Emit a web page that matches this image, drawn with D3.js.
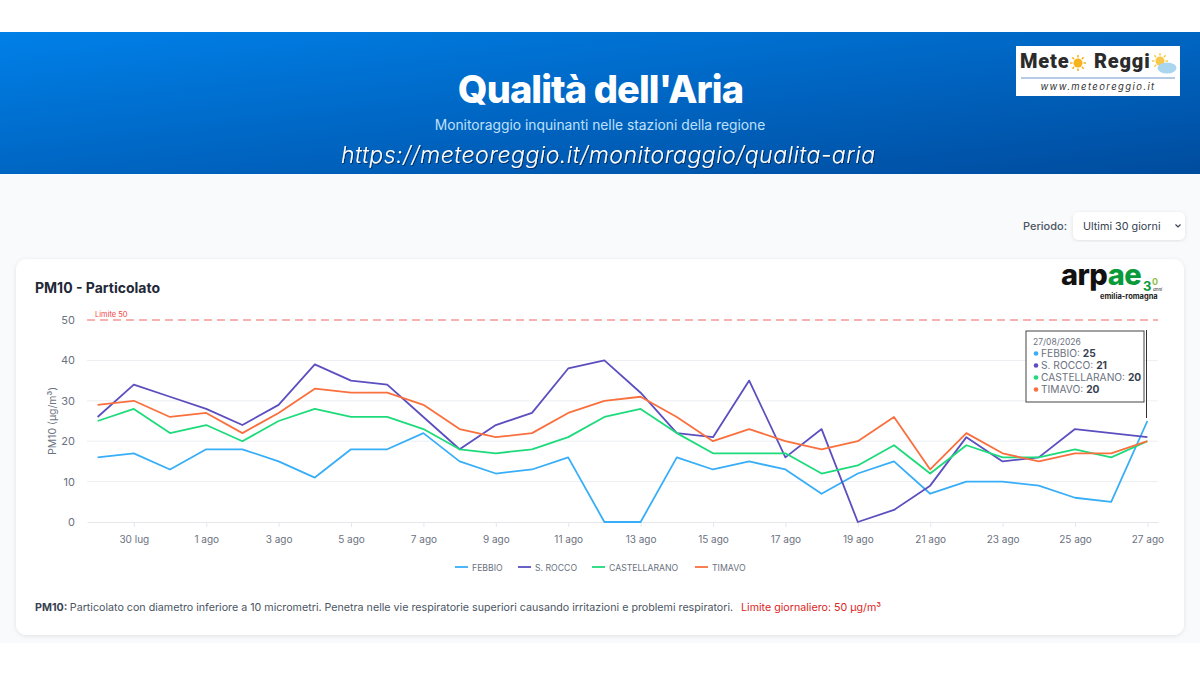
<!DOCTYPE html>
<html lang="it">
<head>
<meta charset="utf-8">
<title>Qualità dell'Aria</title>
<script src="https://cdn.jsdelivr.net/npm/d3@7"></script>
<style>
html, body { margin: 0; padding: 0; background: #fff; overflow: hidden; }
svg { display: block; font-family: Inter, 'Open Sans', sans-serif; }
.axis path, .axis line { stroke: #e5e7eb; }
.axis text { fill: #6b7280; font-size: 10px; font-family: Inter, sans-serif; }
</style>
</head>
<body>
<svg id="chart" width="1200" height="675"></svg>
<script>
const dates = ['29 lug', '30 lug', '31 lug', '1 ago', '2 ago', '3 ago', '4 ago', '5 ago', '6 ago', '7 ago', '8 ago', '9 ago', '10 ago', '11 ago', '12 ago', '13 ago', '14 ago', '15 ago', '16 ago', '17 ago', '18 ago', '19 ago', '20 ago', '21 ago', '22 ago', '23 ago', '24 ago', '25 ago', '26 ago', '27 ago'];
const tickDates = ['30 lug', '1 ago', '3 ago', '5 ago', '7 ago', '9 ago', '11 ago', '13 ago', '15 ago', '17 ago', '19 ago', '21 ago', '23 ago', '25 ago', '27 ago'];
const yTicks = [0, 10, 20, 30, 40, 50];
const stations = ['FEBBIO', 'S. ROCCO', 'CASTELLARANO', 'TIMAVO'];
const colors = ['#38aef8', '#5b4fc0', '#1ddb7b', '#f9703e'];
const febbio = [16, 17, 13, 18, 18, 15, 11, 18, 18, 22, 15, 12, 13, 16, 0, 0, 16, 13, 15, 13, 7, 12, 15, 7, 10, 10, 9, 6, 5, 25];
const sRocco = [26, 34, 31, 28, 24, 29, 39, 35, 34, 26, 18, 24, 27, 38, 40, 32, 22, 21, 35, 16, 23, 0, 3, 9, 21, 15, 16, 23, 22, 21];
const castellarano = [25, 28, 22, 24, 20, 25, 28, 26, 26, 23, 18, 17, 18, 21, 26, 28, 22, 17, 17, 17, 12, 14, 19, 12, 19, 16, 16, 18, 16, 20];
const timavo = [29, 30, 26, 27, 22, 27, 33, 32, 32, 29, 23, 21, 22, 27, 30, 31, 26, 20, 23, 20, 18, 20, 26, 13, 22, 17, 15, 17, 17, 20];
const series = [febbio, sRocco, castellarano, timavo];
const limit = 50;
const tooltipDate = '27/08/2026';

const svg = d3.select('#chart');
const defs = svg.append('defs');

const grad = defs.append('linearGradient').attr('id', 'head').attr('x1', '0').attr('y1', '0').attr('x2', '1').attr('y2', '1');
grad.append('stop').attr('offset', '0%').attr('stop-color', '#0080e8');
grad.append('stop').attr('offset', '100%').attr('stop-color', '#004c9e');

const soft = defs.append('filter').attr('id', 'soft').attr('x', '-5%').attr('y', '-5%').attr('width', '110%').attr('height', '110%');
soft.append('feDropShadow').attr('dx', 0).attr('dy', 1).attr('stdDeviation', 2).attr('flood-color', '#000').attr('flood-opacity', 0.1);
const textShadow = defs.append('filter').attr('id', 'tshadow').attr('x', '-5%').attr('y', '-20%').attr('width', '110%').attr('height', '150%');
textShadow.append('feDropShadow').attr('dx', 1).attr('dy', 1).attr('stdDeviation', 0.7).attr('flood-color', '#00214d').attr('flood-opacity', 0.8);

// page background and header
svg.append('rect').attr('y', 174).attr('width', 1200).attr('height', 469).attr('fill', '#f8fafc');
svg.append('rect').attr('y', 32).attr('width', 1200).attr('height', 142).attr('fill', 'url(#head)');

svg.append('text').attr('x', 600.5).attr('y', 103).attr('text-anchor', 'middle').attr('fill', '#fff')
    .attr('font-size', 38).attr('font-weight', 800).attr('letter-spacing', -0.9).text("Qualità dell'Aria");
svg.append('text').attr('x', 600).attr('y', 130).attr('text-anchor', 'middle').attr('fill', '#bfe0fb')
    .attr('font-size', 13.8).text('Monitoraggio inquinanti nelle stazioni della regione');
svg.append('text').attr('x', 341).attr('y', 163).attr('fill', '#fff')
    .attr('font-size', 23).attr('font-style', 'italic').attr('font-weight', 300)
    .attr('textLength', 534).attr('lengthAdjust', 'spacing').attr('filter', 'url(#tshadow)')
    .text('https://meteoreggio.it/monitoraggio/qualita-aria');

// meteoreggio logo
const logo = svg.append('g').attr('transform', 'translate(1016,46)');
logo.append('rect').attr('width', 164).attr('height', 50).attr('fill', '#fff');
logo.append('text').attr('x', 4).attr('y', 22).attr('font-size', 20).attr('font-weight', 900).attr('fill', '#2b2b2b')
    .attr('font-family', 'Roboto, sans-serif').attr('letter-spacing', 0.8).text('Mete');
logo.append('text').attr('x', 78).attr('y', 22).attr('font-size', 20).attr('font-weight', 900).attr('fill', '#2b2b2b')
    .attr('font-family', 'Roboto, sans-serif').attr('letter-spacing', 0.8).text('Reggi');
logo.append('circle').attr('cx', 62).attr('cy', 17).attr('r', 4.5).attr('fill', '#f7b21c');
d3.range(8).forEach(function (i) {
    const a = i * Math.PI / 4;
    logo.append('line')
        .attr('x1', 62 + 5.5 * Math.cos(a)).attr('y1', 17 + 5.5 * Math.sin(a))
        .attr('x2', 62 + 8 * Math.cos(a)).attr('y2', 17 + 8 * Math.sin(a))
        .attr('stroke', '#f7b21c').attr('stroke-width', 1.5);
    logo.append('line')
        .attr('x1', 144 + 5.5 * Math.cos(a)).attr('y1', 15 + 5.5 * Math.sin(a))
        .attr('x2', 144 + 8 * Math.cos(a)).attr('y2', 15 + 8 * Math.sin(a))
        .attr('stroke', '#f7c84a').attr('stroke-width', 1.5);
});
logo.append('circle').attr('cx', 144).attr('cy', 15).attr('r', 4.5).attr('fill', '#f7c84a');
logo.append('ellipse').attr('cx', 151).attr('cy', 22).attr('rx', 9.5).attr('ry', 5.5).attr('fill', '#a9d6ee');
logo.append('line').attr('x1', 5).attr('x2', 159).attr('y1', 32).attr('y2', 32).attr('stroke', '#9fb9dc').attr('stroke-width', 1.5);
logo.append('text').attr('x', 82).attr('y', 44).attr('text-anchor', 'middle').attr('font-size', 9.5).attr('font-style', 'italic')
    .attr('letter-spacing', 1.4).attr('fill', '#333').text('www.meteoreggio.it');

// period selector
svg.append('text').attr('x', 1067).attr('y', 230).attr('text-anchor', 'end').attr('font-size', 11).attr('font-weight', 500).attr('fill', '#4b5563').text('Periodo:');
svg.append('rect').attr('x', 1073).attr('y', 212).attr('width', 112).attr('height', 28).attr('rx', 6).attr('fill', '#fff').attr('filter', 'url(#soft)');
svg.append('text').attr('x', 1083).attr('y', 230).attr('font-size', 10.8).attr('fill', '#374151').text('Ultimi 30 giorni');
svg.append('path').attr('d', 'M1175.5 224.5 l2.5 2.5 l2.5 -2.5').attr('fill', 'none').attr('stroke', '#374151').attr('stroke-width', 1.2);

// card
svg.append('rect').attr('x', 16).attr('y', 259).attr('width', 1168).attr('height', 376).attr('rx', 11).attr('fill', '#fff').attr('filter', 'url(#soft)');
svg.append('text').attr('x', 35).attr('y', 293).attr('font-size', 14).attr('font-weight', 700).attr('fill', '#1f2937').text('PM10 - Particolato');

// arpae logo
svg.append('text').attr('x', 1061).attr('y', 285).attr('font-size', 29).attr('font-weight', 800).attr('letter-spacing', -0.5)
    .attr('fill', '#111').text('arp')
    .append('tspan').attr('fill', '#0a9a3a').text('ae');
svg.append('text').attr('x', 1143).attr('y', 291).attr('font-size', 13).attr('font-weight', 700).attr('fill', '#0a9a3a').text('3');
svg.append('text').attr('x', 1152).attr('y', 285).attr('font-size', 9).attr('font-weight', 700).attr('fill', '#8fbf4a').text('0');
svg.append('text').attr('x', 1153).attr('y', 291).attr('font-size', 4.5).attr('font-style', 'italic').attr('fill', '#111').text('anni');
svg.append('text').attr('x', 1100).attr('y', 299).attr('font-size', 7.5).attr('font-weight', 700).attr('fill', '#222').text('emilia-romagna');

// scales
const x = d3.scalePoint().domain(dates).range([87, 1158]).padding(0.293);
const y = d3.scaleLinear().domain([0, 50]).range([522, 320]);

// grid
svg.append('g').selectAll('line').data(yTicks.filter(function (d) { return d > 0 && d < limit; })).enter().append('line')
    .attr('x1', 87).attr('x2', 1158)
    .attr('y1', function (d) { return y(d); }).attr('y2', function (d) { return y(d); })
    .attr('stroke', '#eceef1').attr('stroke-width', 1);

// axes
const yAxis = d3.axisLeft(y).tickValues(yTicks).tickSize(0).tickPadding(12);
svg.append('g').attr('class', 'axis').attr('transform', 'translate(87,0)').call(yAxis)
    .call(function (g) { g.select('.domain').remove(); })
    .selectAll('text').style('font-size', '11px');

const xAxis = d3.axisBottom(x).tickValues(tickDates).tickSize(5).tickSizeOuter(0).tickPadding(9);
svg.append('g').attr('class', 'axis').attr('transform', 'translate(0,522)').call(xAxis);

svg.append('text').attr('transform', 'translate(56,421) rotate(-90)').attr('text-anchor', 'middle')
    .attr('font-size', 10.5).attr('fill', '#6b7280').text('PM10 (µg/m³)');

// limit line
svg.append('line').attr('x1', 87).attr('x2', 1158).attr('y1', y(limit)).attr('y2', y(limit))
    .attr('stroke', '#ef4444').attr('stroke-opacity', 0.55).attr('stroke-width', 1.3).attr('stroke-dasharray', '8 5');
svg.append('text').attr('x', 95).attr('y', 317).attr('font-size', 7.5).attr('fill', '#ef4444').text('Limite ' + limit);

// lines
const line = d3.line()
    .x(function (d, i) { return x(dates[i]); })
    .y(function (d) { return y(d); });

svg.append('g').selectAll('path').data(series).enter().append('path')
    .attr('d', line)
    .attr('fill', 'none')
    .attr('stroke-width', 1.8)
    .attr('stroke-linejoin', 'round')
    .attr('stroke', function (d, i) { return colors[i]; });

// legend
const legendX = [455, 518, 592, 695];
const legend = svg.append('g').selectAll('g').data(stations).enter().append('g')
    .attr('transform', function (d, i) { return 'translate(' + legendX[i] + ',567)'; });
legend.append('line').attr('x1', 0).attr('x2', 13).attr('stroke-width', 1.8)
    .attr('stroke', function (d, i) { return colors[i]; });
legend.append('text').attr('x', 17).attr('y', 3.5).attr('font-size', 8.7).attr('fill', '#6b7280')
    .text(function (d) { return d; });

// tooltip for the last day
const last = dates.length - 1;
svg.append('line').attr('x1', 1146.5).attr('x2', 1146.5).attr('y1', 330).attr('y2', 418).attr('stroke', '#333').attr('stroke-width', 1);
svg.append('rect').attr('x', 1026).attr('y', 331).attr('width', 118).attr('height', 71).attr('fill', '#fff').attr('stroke', '#444').attr('stroke-width', 1);
svg.append('text').attr('x', 1033).attr('y', 345).attr('font-size', 8.5).attr('fill', '#6b7280').text(tooltipDate);
const tip = svg.append('g').selectAll('g').data(stations).enter().append('g')
    .attr('transform', function (d, i) { return 'translate(1033,' + (353.5 + i * 12) + ')'; });
tip.append('circle').attr('cx', 3).attr('cy', 0).attr('r', 2.3).attr('fill', function (d, i) { return colors[i]; });
const tipText = tip.append('text').attr('x', 8).attr('y', 3.6).attr('font-size', 10.2).attr('fill', '#6b7280');
tipText.append('tspan').text(function (d) { return d + ': '; });
tipText.append('tspan').attr('font-weight', 700).attr('fill', '#374151')
    .text(function (d, i) { return series[i][last]; });

// note
const note = svg.append('text').attr('x', 35).attr('y', 611).attr('font-size', 10.7).attr('fill', '#4b5563');
note.append('tspan').attr('font-weight', 700).attr('fill', '#374151').text('PM10: ');
note.append('tspan').text('Particolato con diametro inferiore a 10 micrometri. Penetra nelle vie respiratorie superiori causando irritazioni e problemi respiratori.');
note.append('tspan').attr('x', 741).attr('fill', '#dc2626').text('Limite giornaliero: ' + limit + ' µg/m³');
</script>
</body>
</html>
